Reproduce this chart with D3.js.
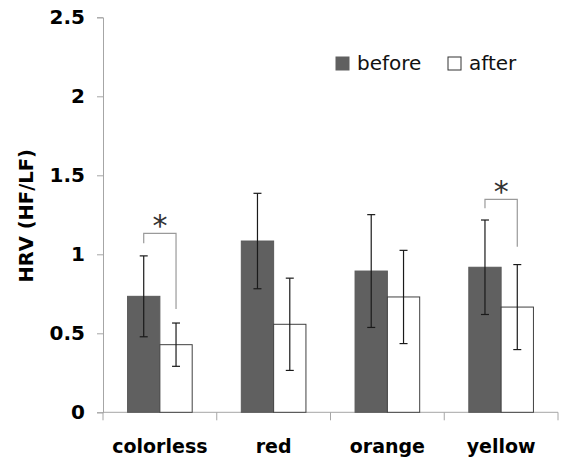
<!DOCTYPE html>
<html>
<head>
<meta charset="utf-8">
<script src="https://cdn.jsdelivr.net/npm/d3@7"></script>
<style>
  body { margin: 0; background: #fff; }
  svg { display: block; }
</style>
</head>
<body>
<div id="chart"></div>
<script>
const width = 562
    height = 463
    margin = {top: 17.3, right: 4, bottom: 50.7, left: 103};

// data
const categories = ["colorless", "red", "orange", "yellow"];
const groups = ["before", "after"];
const beforeMean = [0.734, 1.084, 0.894, 0.918];
const beforeErr = [0.256, 0.302, 0.357, 0.299];
const afterMean = [0.428, 0.557, 0.730, 0.666];
const afterErr = [0.137, 0.292, 0.295, 0.269];
const yTicks = [0, 0.5, 1, 1.5, 2, 2.5];

// significance brackets: category, bracket top, left leg end, right leg end
const sigCats = ["colorless", "yellow"];
const sigTop = [1.133, 1.348];
const sigLeft = [1.070, 1.291];
const sigRight = [0.654, 1.048];

const rows = [];
categories.forEach((c, i) => {
    rows.push({cat: c, group: "before", mean: beforeMean[i], err: beforeErr[i]});
    rows.push({cat: c, group: "after", mean: afterMean[i], err: afterErr[i]});
});

let svg = d3.select("div#chart").append("svg")
    .attr("width", width)
    .attr("height", height);

let x = d3.scaleBand()
    .domain(categories)
    .range([margin.left, width - margin.right])
    .padding(0);

let xx = d3.scaleBand()
    .domain(groups)
    .range([0, x.bandwidth()])
    .paddingInner(0)
    .paddingOuter(0.76);

let y = d3.scaleLinear()
    .domain([0, 2.5])
    .range([height - margin.bottom, margin.top]);

// y axis
let yAxis = svg.append("g")
    .attr("transform", `translate(${margin.left},0)`)
    .call(d3.axisLeft(y).tickValues(yTicks).tickSize(6).tickPadding(12).tickFormat(d3.format("")));
yAxis.select(".domain").attr("stroke", "#a6a6a6");
yAxis.selectAll(".tick line").attr("stroke", "#a6a6a6");
yAxis.selectAll(".tick text")
    .attr("fill", "#000")
    .style("font-family", "DejaVu Sans")
    .style("font-weight", "bold")
    .style("font-size", "20px");

// x axis line and ticks at category boundaries
let x0 = y(0);
svg.append("line")
    .attr("x1", margin.left).attr("x2", width - margin.right)
    .attr("y1", x0).attr("y2", x0)
    .attr("stroke", "#a6a6a6");

let bounds = categories.map(c => x(c)).concat([x(categories[categories.length - 1]) + x.bandwidth()]);
svg.selectAll("line.xtick")
    .data(bounds)
    .join("line")
    .attr("class", "xtick")
    .attr("x1", d => d).attr("x2", d => d)
    .attr("y1", x0).attr("y2", x0 + 8)
    .attr("stroke", "#a6a6a6");

svg.selectAll("text.xlabel")
    .data(categories)
    .join("text")
    .attr("class", "xlabel")
    .attr("x", d => x(d) + x.bandwidth() / 2)
    .attr("y", 453)
    .attr("text-anchor", "middle")
    .style("font-family", "DejaVu Sans")
    .style("font-weight", "bold")
    .style("font-size", "19px")
    .text(d => d);

// y title
svg.append("text")
    .attr("transform", `translate(33,${(margin.top + height - margin.bottom) / 2 + 1}) rotate(-90)`)
    .attr("text-anchor", "middle")
    .style("font-family", "DejaVu Sans")
    .style("font-weight", "bold")
    .style("font-size", "19.5px")
    .text("HRV (HF/LF)");

// bars
svg.selectAll("rect.bar")
    .data(rows)
    .join("rect")
    .attr("class", "bar")
    .attr("x", d => x(d.cat) + xx(d.group))
    .attr("y", d => y(d.mean))
    .attr("width", xx.bandwidth())
    .attr("height", d => y(0) - y(d.mean))
    .attr("fill", d => d.group === "before" ? "#606060" : "#fff")
    .attr("stroke", d => d.group === "before" ? "#5a5a5a" : "#404040")
    .attr("stroke-width", 1);

// error bars
let cx = d => x(d.cat) + xx(d.group) + xx.bandwidth() / 2;
let eb = svg.selectAll("g.err")
    .data(rows)
    .join("g")
    .attr("class", "err")
    .attr("stroke", "#1a1a1a")
    .attr("stroke-width", 1.2);
eb.append("line")
    .attr("x1", cx).attr("x2", cx)
    .attr("y1", d => y(d.mean + d.err)).attr("y2", d => y(d.mean - d.err));
eb.append("line")
    .attr("x1", d => cx(d) - 4).attr("x2", d => cx(d) + 4)
    .attr("y1", d => y(d.mean + d.err)).attr("y2", d => y(d.mean + d.err));
eb.append("line")
    .attr("x1", d => cx(d) - 4).attr("x2", d => cx(d) + 4)
    .attr("y1", d => y(d.mean - d.err)).attr("y2", d => y(d.mean - d.err));

// significance brackets
sigCats.forEach((c, i) => {
    let xl = x(c) + xx("before") + xx.bandwidth() / 2;
    let xr = x(c) + xx("after") + xx.bandwidth() / 2;
    svg.append("path")
        .attr("d", `M${xl},${y(sigLeft[i])}V${y(sigTop[i])}H${xr}V${y(sigRight[i])}`)
        .attr("fill", "none")
        .attr("stroke", "#9a9a9a")
        .attr("stroke-width", 1.2);
    svg.append("text")
        .attr("x", (xl + xr) / 2)
        .attr("y", y(sigTop[i]))
        .attr("dy", "0.1em")
        .attr("text-anchor", "middle")
        .style("font-family", "DejaVu Sans")
        .style("font-size", "30px")
        .style("fill", "#333")
        .text("*");
});

// legend
let legend = svg.append("g");
let legendX = [336, 448];
groups.forEach((g, i) => {
    legend.append("rect")
        .attr("x", legendX[i]).attr("y", 57)
        .attr("width", 13).attr("height", 13)
        .attr("fill", g === "before" ? "#606060" : "#fff")
        .attr("stroke", g === "before" ? "#606060" : "#333");
    legend.append("text")
        .attr("x", legendX[i] + 21).attr("y", 70)
        .style("font-family", "DejaVu Sans")
        .style("font-size", "20px")
        .attr("fill", "#111")
        .text(g);
});
</script>
</body>
</html>
